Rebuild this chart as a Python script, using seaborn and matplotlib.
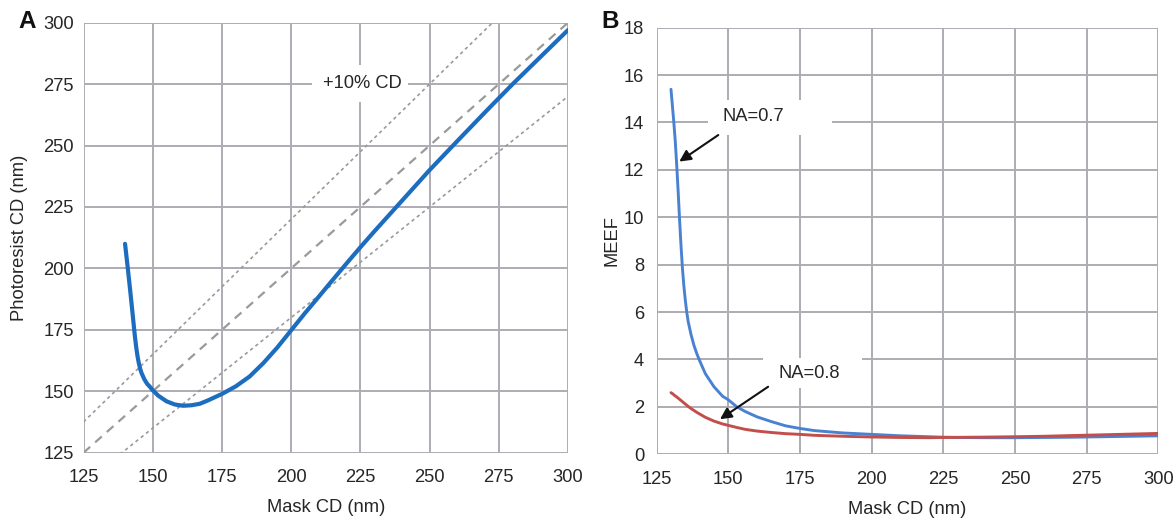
import numpy as np
import pandas as pd
import matplotlib
matplotlib.use("Agg")
import matplotlib.pyplot as plt
from matplotlib.patches import Rectangle
import seaborn as sns

# Panel A: photoresist CD versus mask CD
mask_a = [140, 141, 142, 143, 143.5, 144, 144.5, 145, 145.5, 146, 147, 148, 149,
          150, 152, 155, 158, 161, 164, 167, 170, 175, 180, 185, 190, 195, 200,
          205, 210, 215, 220, 225, 230, 240, 250, 260, 270, 280, 290, 300]
resist_a = [210, 200, 189.5, 178.5, 173, 168.2, 164.3, 161.3, 159, 157.3, 154.8,
            153, 151.8, 150.4, 148.2, 145.9, 144.6, 144.1, 144.3, 144.9, 146.3,
            148.9, 152, 156, 161.5, 167.8, 174.8, 181.8, 188.5, 195.3, 202, 208.6,
            215, 227.5, 240, 251.8, 263.5, 275, 286, 297]

# Panel B: MEEF versus mask CD for two numerical apertures
mask_b = [130, 130.5, 131, 131.5, 132, 132.5, 133, 133.5, 134, 134.5, 135, 135.5,
          136, 137, 138, 139, 140, 142, 145, 148, 150, 153, 156, 160, 165, 170,
          175, 180, 190, 200, 210, 220, 225, 230, 240, 250, 260, 270, 280, 290, 300]
meef_na07 = [15.4, 14.7, 14.0, 13.2, 12.2, 11.1, 9.9, 8.8, 7.85, 7.1, 6.5, 6.0,
             5.6, 5.05, 4.6, 4.25, 3.95, 3.4, 2.85, 2.45, 2.3, 2.0, 1.8, 1.58,
             1.38, 1.2, 1.09, 1.0, 0.9, 0.84, 0.78, 0.74, 0.72, 0.71, 0.70, 0.70,
             0.71, 0.72, 0.74, 0.76, 0.78]
meef_na08 = [2.6, 2.56, 2.51, 2.46, 2.42, 2.37, 2.32, 2.27, 2.22, 2.17, 2.12,
             2.07, 2.02, 1.93, 1.85, 1.77, 1.7, 1.56, 1.4, 1.28, 1.22, 1.13, 1.05,
             0.98, 0.92, 0.87, 0.84, 0.8, 0.76, 0.73, 0.71, 0.70, 0.71, 0.715,
             0.725, 0.74, 0.76, 0.79, 0.82, 0.85, 0.88]

ticks_x = [125, 150, 175, 200, 225, 250, 275, 300]
ticks_a_y = [125, 150, 175, 200, 225, 250, 275, 300]
ticks_b_y = [0, 2, 4, 6, 8, 10, 12, 14, 16, 18]
cd_band = [1.1, 1.0, 0.9]

sns.set_theme(style="whitegrid")
plt.rcParams["font.family"] = ["Liberation Sans", "DejaVu Sans"]

grid_c = "#aeabb2"
text_c = "#262626"
fs = 13.2

fig = plt.figure(figsize=(11.73, 5.18), dpi=100)
ax_a = fig.add_axes([0.0712, 0.1261, 0.4130, 0.8301])
ax_b = fig.add_axes([0.5598, 0.1230, 0.4276, 0.8236])

for ax in (ax_a, ax_b):
    ax.set_facecolor("white")
    ax.grid(True, color=grid_c, linewidth=1.4, zorder=0)
    ax.set_axisbelow(True)
    for s in ax.spines.values():
        s.set_visible(False)
    ax.tick_params(axis="both", which="major", length=3.6, width=1.4, color=grid_c,
                   labelsize=fs, labelcolor=text_c)
    ax.tick_params(axis="x", pad=8.5)
ax_a.tick_params(axis="y", pad=3.4)
ax_b.tick_params(axis="y", pad=5.5)

# --- Panel A ---
xs = np.array([125.0, 300.0])
styles = [((0, (2, 2)), 1.2), ((0, (4, 3)), 1.6), ((0, (2, 2)), 1.2)]
for f, (ls, lw) in zip(cd_band, styles):
    ax_a.plot(xs, f * xs, color="#9a9a9a", linestyle=ls, linewidth=lw, zorder=2)

df_a = pd.DataFrame({"mask": mask_a, "resist": resist_a})
sns.lineplot(data=df_a, x="mask", y="resist", ax=ax_a, color="#1c6dc0",
             linewidth=3.0, sort=False, zorder=4)
ax_a.set_xlim(125, 300)
ax_a.set_ylim(125, 300)
ax_a.set_xticks(ticks_x)
ax_a.set_yticks(ticks_a_y)
ax_a.set_xlabel("Mask CD (nm)", fontsize=fs, color=text_c, labelpad=9)
ax_a.set_ylabel("Photoresist CD (nm)", fontsize=fs, color=text_c, labelpad=11)
ax_a.add_patch(Rectangle((207.4, 267.7), 34.8, 15.1, fc="white", ec="none", zorder=1.5))
ax_a.text(225.9, 275.3, "+10% CD", ha="center", va="center", fontsize=fs,
          color=text_c, zorder=5)

# --- Panel B ---
df_b = pd.DataFrame({
    "mask": mask_b * 2,
    "meef": meef_na07 + meef_na08,
    "NA": ["NA=0.7"] * len(mask_b) + ["NA=0.8"] * len(mask_b),
})
sns.lineplot(data=df_b, x="mask", y="meef", hue="NA", ax=ax_b,
             palette={"NA=0.7": "#4a82d2", "NA=0.8": "#c24f4b"},
             linewidth=2.1, sort=False, legend=False, zorder=4)
ax_b.set_xlim(125, 300)
ax_b.set_ylim(0, 18)
ax_b.set_xticks(ticks_x)
ax_b.set_yticks(ticks_b_y)
ax_b.set_xlabel("Mask CD (nm)", fontsize=fs, color=text_c, labelpad=9)
ax_b.set_ylabel("MEEF", fontsize=fs, color=text_c, labelpad=2)

arrow = dict(arrowstyle="-|>", color="#111111", lw=1.5, mutation_scale=17,
             shrinkA=0, shrinkB=0)
ax_b.add_patch(Rectangle((142.9, 13.47), 43.2, 1.48, fc="white", ec="none", zorder=1.5))
ax_b.text(158.9, 14.24, "NA=0.7", ha="center", va="center", fontsize=fs,
          color=text_c, zorder=5)
ax_b.annotate("", xy=(132.9, 12.35), xytext=(146.5, 13.47), arrowprops=arrow, zorder=6)
ax_b.add_patch(Rectangle((162.0, 2.80), 34.6, 1.26, fc="white", ec="none", zorder=1.5))
ax_b.text(178.2, 3.42, "NA=0.8", ha="center", va="center", fontsize=fs,
          color=text_c, zorder=5)
ax_b.annotate("", xy=(147.1, 1.48), xytext=(163.9, 2.85), arrowprops=arrow, zorder=6)

fig.text(27.5 / 1173, 1 - 22 / 518, "A", fontsize=17.5, fontweight="bold",
         color="#111111", ha="center", va="center")
fig.text(610 / 1173, 1 - 21 / 518, "B", fontsize=17.5, fontweight="bold",
         color="#111111", ha="center", va="center")

fig.savefig("out.png", dpi=100)
